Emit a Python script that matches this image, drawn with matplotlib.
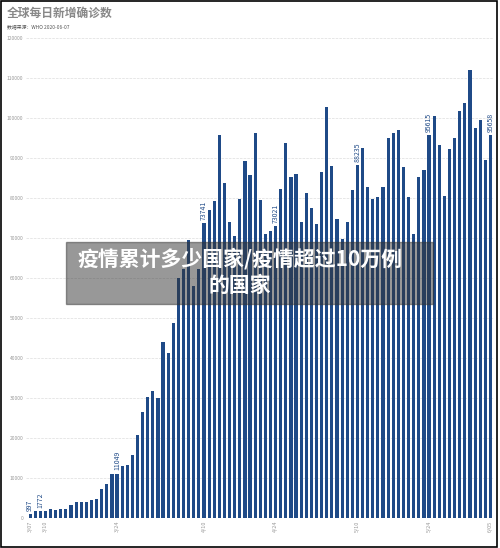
import numpy as np
import matplotlib.pyplot as plt
from matplotlib.patches import Rectangle

plt.rcParams['font.family'] = ['Noto Sans CJK SC', 'DejaVu Sans']

# daily new confirmed cases
cases = [1000, 1650, 1772, 1800, 2100, 1900, 2300, 2300, 3100, 3900,
         4000, 4000, 4500, 4750, 7100, 8500, 10900, 11049, 12900, 13100,
         15800, 20700, 26500, 30300, 31700, 29900, 44000, 41200, 48700, 60000,
         62300, 69500, 58000, 62300, 73741, 76900, 79300, 95700, 83700, 74000,
         70500, 79800, 89100, 85600, 96200, 79400, 71000, 71700, 73021, 82200,
         93600, 85300, 86000, 74000, 81250, 77400, 73500, 86400, 102700, 88000,
         74750, 69800, 74000, 82000, 88235, 92400, 82700, 79800, 80100, 82700,
         95000, 96200, 96900, 87800, 80300, 71000, 85300, 87000, 95615, 100400,
         93200, 80500, 92200, 95000, 101700, 103700, 111900, 97400, 99400, 89400,
         95658]
labelled = {0: '997', 2: '1772', 17: '11049', 34: '73741', 48: '73021',
            64: '88235', 78: '95615', 90: '95658'}
tick_idx = [0, 3, 17, 34, 48, 64, 78, 90]
tick_labels = ['3/07', '3/10', '3/24', '4/10', '4/24', '5/10', '5/24', '6/05']

fig = plt.figure(figsize=(5, 5.48), dpi=100)
ax = fig.add_axes([0.052, 0.055, 0.935, 0.876])
x = np.arange(len(cases))
blue = '#1f4a87'
ax.bar(x, cases, width=0.62, color=blue, zorder=2)
for i, t in labelled.items():
    ax.text(i, cases[i] + 800, t, rotation=90, ha='center', va='bottom',
            fontsize=5, color=blue, zorder=3)

ax.set_ylim(0, 120000)
ax.set_xlim(-0.8, len(cases) - 0.4)
ax.set_yticks(np.arange(0, 120001, 10000))
ax.set_yticklabels([str(v) for v in range(0, 120001, 10000)], fontsize=3.5, color='#999999')
ax.set_xticks(tick_idx)
ax.set_xticklabels(tick_labels, rotation=90, fontsize=4, color='#999999')
ax.tick_params(length=0, pad=2)
ax.grid(axis='y', color='#dddddd', linestyle='--', linewidth=0.5, zorder=0)
for s in ax.spines.values():
    s.set_visible(False)

fig.text(0.014, 0.975, '全球每日新增确诊数', fontsize=8.5, fontweight='bold',
         color='#888888', va='center')
fig.text(0.014, 0.952, '数据来源：WHO 2020-06-07', fontsize=3.5, color='#555555', va='center')

# overlay caption box
fig.patches.append(Rectangle((66 / 500, 1 - 304 / 548), 367 / 500, 62 / 548,
                             transform=fig.transFigure, color='#333333', alpha=0.5, zorder=5))
fig.text(0.48, 1 - 259 / 548, '疫情累计多少国家/疫情超过10万例', fontsize=15, fontweight='bold',
         color='white', ha='center', va='center', zorder=6)
fig.text(0.48, 1 - 285 / 548, '的国家', fontsize=15, fontweight='bold',
         color='white', ha='center', va='center', zorder=6)

fig.patches.append(Rectangle((0.001, 0.002), 0.992, 0.996, transform=fig.transFigure,
                             fill=False, edgecolor='black', linewidth=1.2, zorder=7))

fig.savefig('out.png', dpi=100)
